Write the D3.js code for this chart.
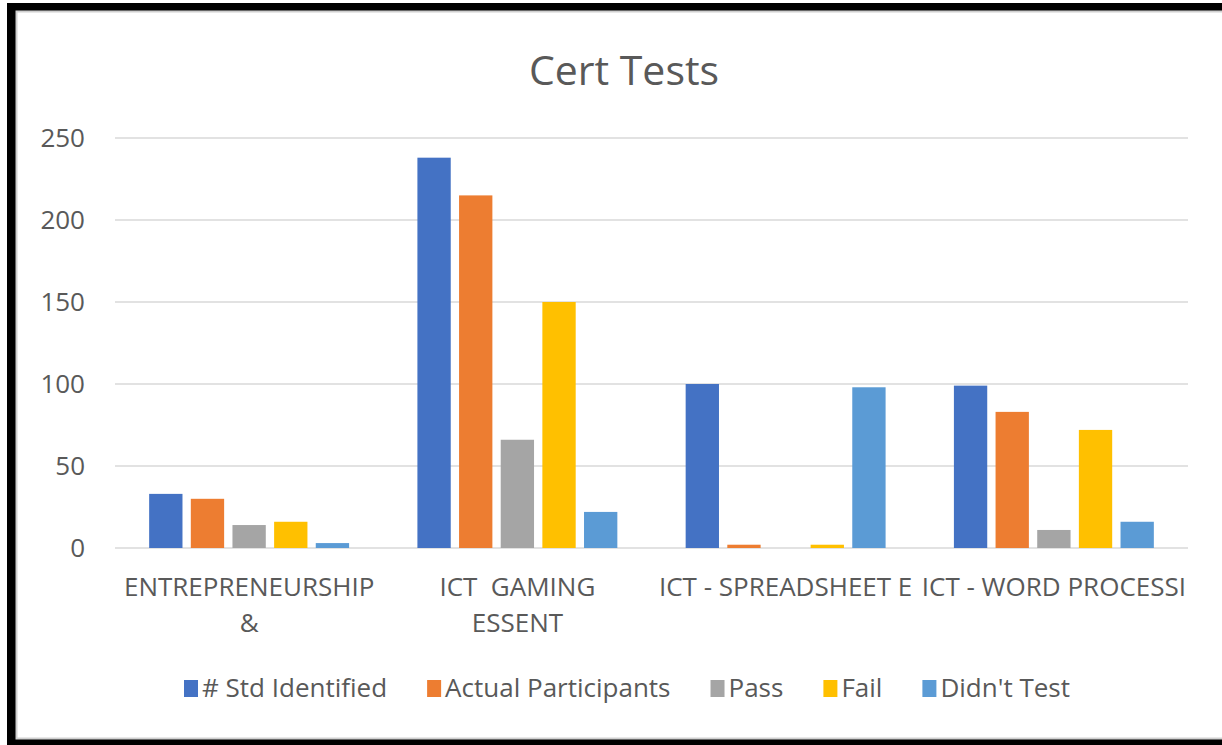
<!DOCTYPE html>
<html>
<head>
<meta charset="utf-8">
<script src="https://cdn.jsdelivr.net/npm/d3@7"></script>
<style>
  body { margin: 0; background: #fff; }
  text { font-family: "Open Sans", sans-serif; fill: #595959; white-space: pre; }
</style>
</head>
<body>
<div id="chart"></div>
<script>
// chart values
const categories = [["ENTREPRENEURSHIP", "&"], ["ICT  GAMING", "ESSENT"], ["ICT - SPREADSHEET E"], ["ICT - WORD PROCESSI"]];
const seriesNames = ["# Std Identified", "Actual Participants", "Pass", "Fail", "Didn't Test"];
const stdIdentified = [33, 238, 100, 99];
const actualParticipants = [30, 215, 2, 83];
const pass = [14, 66, 0, 11];
const fail = [16, 150, 2, 72];
const didntTest = [3, 22, 98, 16];
const yTicks = [0, 50, 100, 150, 200, 250];
const colors = ["#4472C4", "#ED7D31", "#A5A5A5", "#FFC000", "#5B9BD5"];

const allSeries = [stdIdentified, actualParticipants, pass, fail, didntTest];

const width = 1222, height = 745;
const plot = {left: 115, right: 1188, top: 138, bottom: 548};
const fontSize = 26;

const svg = d3.select("#chart").append("svg")
    .attr("width", width)
    .attr("height", height);

// black frame round the chart area
svg.append("rect")
    .attr("x", 7).attr("y", 3)
    .attr("width", width).attr("height", height)
    .attr("fill", "#000");
svg.append("rect")
    .attr("x", 16.5).attr("y", 11.5)
    .attr("width", width).attr("height", 727)
    .attr("fill", "#fff")
    .attr("stroke", "#d0d0d0")
    .attr("stroke-width", 2);

let catKeys = categories.map((d, i) => i);

let x0 = d3.scaleBand()
    .domain(catKeys)
    .range([plot.left, plot.right]);

let x1 = d3.scaleBand()
    .domain(seriesNames)
    .range([0, x0.bandwidth()])
    .paddingInner(0.2)
    .paddingOuter(0.82);

let y = d3.scaleLinear()
    .domain([0, 250])
    .range([plot.bottom, plot.top]);

// gridlines
svg.append("g")
    .selectAll("line")
    .data(yTicks)
    .enter().append("line")
    .attr("x1", plot.left)
    .attr("x2", plot.right)
    .attr("y1", d => y(d))
    .attr("y2", d => y(d))
    .attr("stroke", "#d9d9d9")
    .attr("stroke-width", 1.5);

// y axis labels (no domain line)
let yAxis = svg.append("g")
    .attr("transform", "translate(" + (plot.left - 30) + ",0)")
    .call(d3.axisLeft(y).tickValues(yTicks).tickSize(0).tickPadding(0));
yAxis.select(".domain").remove();
yAxis.selectAll("text")
    .attr("font-size", fontSize)
    .attr("font-family", null)
    .attr("fill", null);

// bars
let groups = svg.append("g")
    .selectAll("g")
    .data(allSeries)
    .enter().append("g")
    .attr("fill", (d, i) => colors[i]);

groups.each(function (vals, si) {
    d3.select(this).selectAll("rect")
        .data(vals)
        .enter().append("rect")
        .attr("x", (d, ci) => x0(ci) + x1(seriesNames[si]))
        .attr("width", x1.bandwidth())
        .attr("y", d => y(d))
        .attr("height", d => y(0) - y(d));
});

// category labels
let catLabels = svg.append("g")
    .selectAll("text")
    .data(categories)
    .enter().append("text")
    .attr("text-anchor", "middle")
    .attr("font-size", fontSize)
    .attr("x", (d, i) => x0(i) + x0.bandwidth() / 2)
    .attr("y", 596);
catLabels.selectAll("tspan")
    .data(d => d)
    .enter().append("tspan")
    .attr("x", function () { return d3.select(this.parentNode).attr("x"); })
    .attr("dy", (d, i) => i === 0 ? 0 : 36)
    .text(d => d);

// title
svg.append("text")
    .attr("x", 624)
    .attr("y", 85)
    .attr("text-anchor", "middle")
    .attr("font-size", 41)
    .text("Cert Tests");

// legend, centred
let legend = svg.append("g");
let items = legend.selectAll("g")
    .data(seriesNames)
    .enter().append("g");
items.append("rect")
    .attr("width", 14)
    .attr("height", 17)
    .attr("y", 680)
    .attr("fill", (d, i) => colors[i]);
items.append("text")
    .attr("x", 18)
    .attr("y", 697)
    .attr("font-size", fontSize)
    .text(d => d);

let pos = 0;
let offsets = [];
items.each(function () {
    offsets.push(pos);
    let w = d3.select(this).select("text").node().getComputedTextLength();
    pos += 18 + w + 40;
});
let total = pos - 40;
let start = 627 - total / 2;
items.attr("transform", (d, i) => "translate(" + (start + offsets[i]) + ",0)");
</script>
</body>
</html>
